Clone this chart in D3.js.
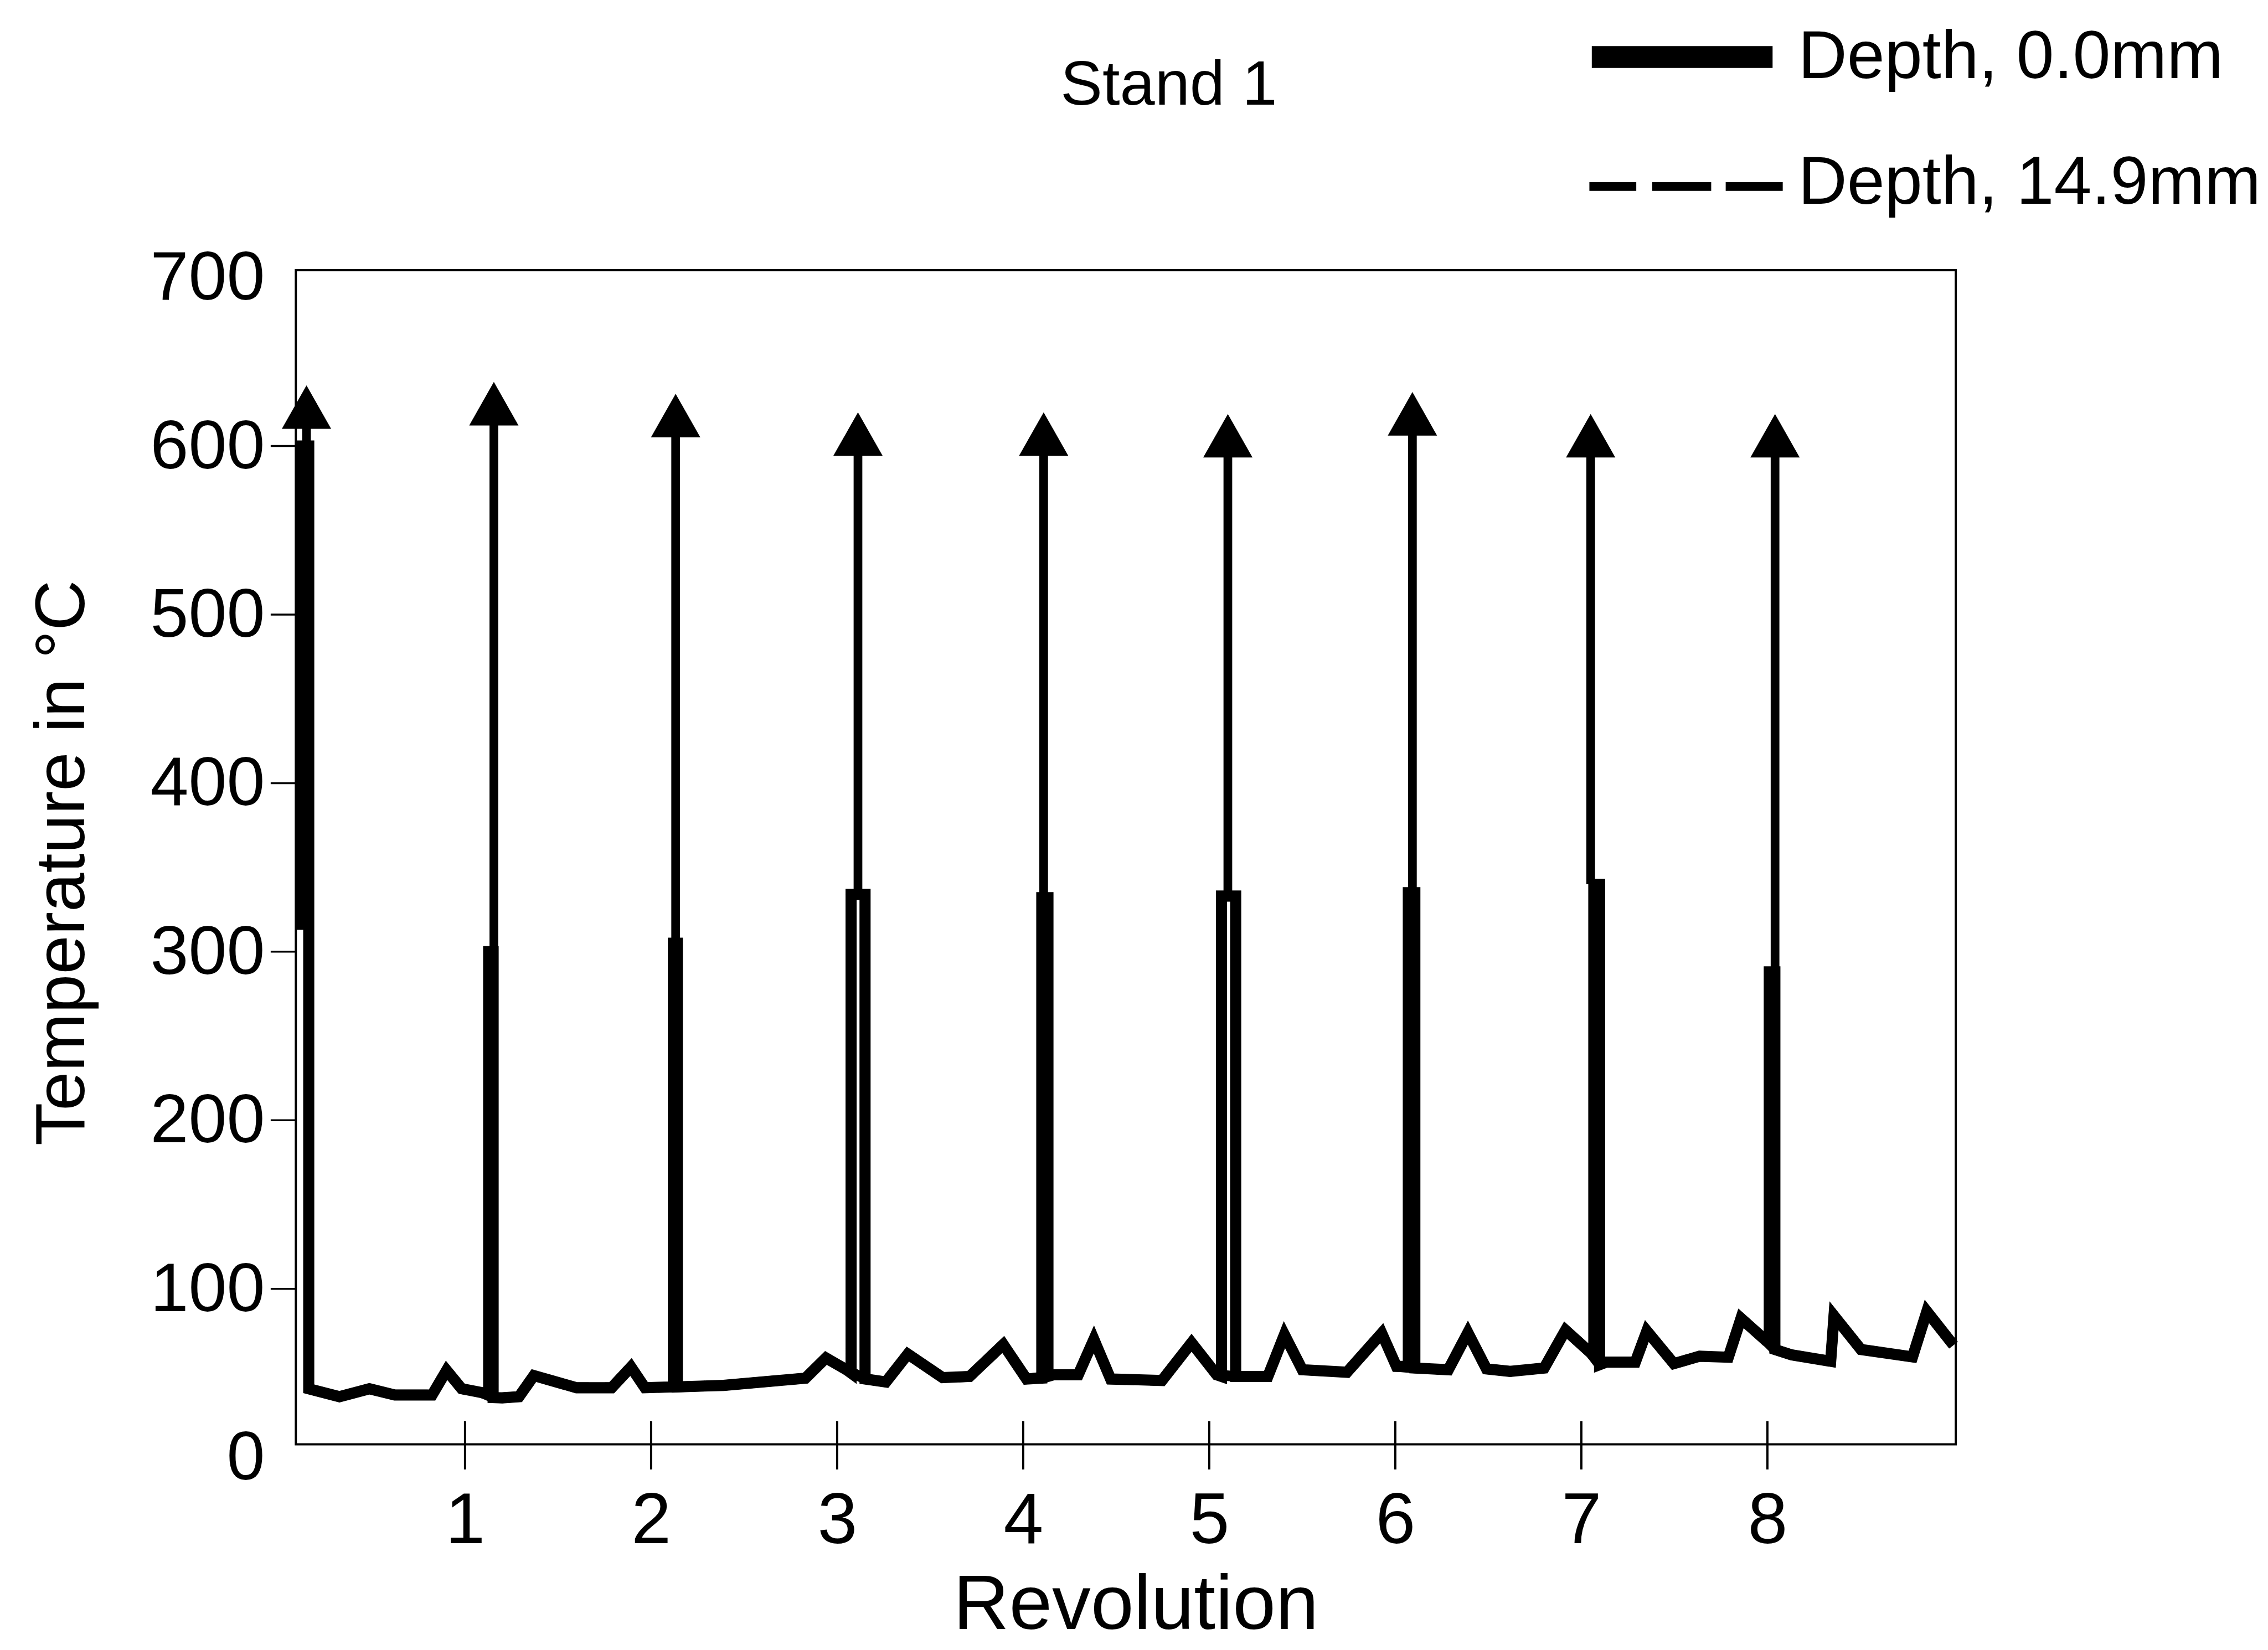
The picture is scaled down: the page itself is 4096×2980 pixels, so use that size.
<!DOCTYPE html>
<html>
<head>
<meta charset="utf-8">
<script src="https://cdn.jsdelivr.net/npm/d3@7"></script>
<style>
  html, body { margin: 0; padding: 0; background: #fff; }
  svg { display: block; }
  text { font-family: "Liberation Sans", Arial, Helvetica, sans-serif; fill: #000; }
</style>
</head>
<body>
<svg id="chart"></svg>
<script>
// ---- data ----------------------------------------------------------------
const title = "Stand 1";
const seriesNames = ["Depth, 0.0mm", "Depth, 14.9mm"];
const xLabel = "Revolution";
const yLabel = "Temperature in °C";
const xTicks = [1, 2, 3, 4, 5, 6, 7, 8];
const yTicks = [0, 100, 200, 300, 400, 500, 600, 700];

// surface trace (depth 0.0 mm): revolution vs temperature, with the contact peaks
const surfRev = [
  0.12, 0.12, 0.16, 0.16,
  0.325, 0.486, 0.623, 0.823, 0.901, 0.982, 1.09,
  1.127, 1.127, 1.151, 1.151,
  1.2, 1.29, 1.37, 1.6, 1.788, 1.892, 1.967,
  2.12, 2.12, 2.141, 2.141,
  2.39, 2.83, 2.94, 3.05,
  3.075, 3.075, 3.150, 3.150,
  3.262, 3.38, 3.567, 3.712, 3.893, 4.018,
  4.1, 4.1, 4.133, 4.133,
  4.164, 4.296, 4.38, 4.47, 4.746, 4.905, 5.04,
  5.066, 5.066, 5.142, 5.142,
  5.315, 5.404, 5.5, 5.74, 5.927, 6.006,
  6.07, 6.07, 6.105, 6.105,
  6.285, 6.39, 6.49, 6.617, 6.8, 6.915, 7.05,
  7.067, 7.067, 7.098, 7.098,
  7.134, 7.29, 7.352, 7.497, 7.635, 7.79, 7.858, 7.995,
  8.01, 8.01, 8.04, 8.04,
  8.13, 8.34, 8.358, 8.503, 8.78, 8.857, 9.0
];
const surfTemp = [
  313, 600, 600, 40.7,
  36, 40.7, 37, 37, 51.6, 40.7, 38.4,
  37.5, 300, 300, 35.5,
  35.3, 36, 48.5, 41.3, 41.3, 53.6, 41.3,
  41.8, 305, 305, 41.8,
  42.7, 47, 59, 52,
  50, 334, 334, 46.5,
  44.7, 61.3, 47.3, 48, 67, 46.5,
  47, 332, 332, 48,
  49, 49, 70, 46.5, 45.6, 68, 49,
  48, 333, 333, 48,
  48, 72.8, 52, 50.5, 73.7, 54,
  54, 335, 335, 53,
  52, 74, 52.5, 51, 53, 75.5, 62,
  60, 340, 340, 55,
  56.5, 56.5, 75, 55.6, 60, 59.4, 82.5, 69,
  68, 288, 288, 64,
  60.8, 57, 84, 64, 59.6, 86.6, 66.6
];

// trace at depth 14.9 mm
const deepRev = [
  0.16, 0.325, 0.486, 0.623, 0.823, 0.901, 0.982, 1.09, 1.151,
  1.2, 1.29, 1.37, 1.6, 1.788, 1.892, 1.967, 2.141,
  2.39, 2.83, 2.94, 3.05, 3.150,
  3.262, 3.38, 3.567, 3.712, 3.893, 4.018, 4.133,
  4.164, 4.296, 4.38, 4.47, 4.746, 4.905, 5.04, 5.142,
  5.315, 5.404, 5.5, 5.74, 5.927, 6.006, 6.105,
  6.285, 6.39, 6.49, 6.617, 6.8, 6.915, 7.05, 7.098,
  7.134, 7.29, 7.352, 7.497, 7.635, 7.79, 7.858, 7.995, 8.04,
  8.13, 8.34, 8.358, 8.503, 8.78, 8.857, 9.0
];
const deepTemp = [
  40.7, 36, 40.7, 37, 37, 51.6, 40.7, 38.4, 35.5,
  35.3, 36, 48.5, 41.3, 41.3, 53.6, 41.3, 41.8,
  42.7, 47, 59, 52, 46.5,
  44.7, 61.3, 47.3, 48, 67, 46.5, 48,
  49, 49, 70, 46.5, 45.6, 68, 49, 48,
  48, 72.8, 52, 50.5, 73.7, 54, 53,
  52, 74, 52.5, 51, 53, 75.5, 62, 55,
  56.5, 56.5, 75, 55.6, 60, 59.4, 82.5, 69, 64,
  60.8, 57, 84, 64, 59.6, 86.6, 66.6
];

// peaks leaving the measured range: arrow from the clipped top up to the peak value
const peakRev  = [0.148, 1.155, 2.132, 3.112, 4.11, 5.10, 6.092, 7.05, 8.041];
const peakFrom = [600, 300, 305, 334, 332, 333, 335, 340, 288];
const peakTo   = [636, 638, 631, 620, 620, 619, 632, 619, 619];

// ---- layout (drawn in a 4687 x 3410 frame, scaled to the window) ----------
const W = 4096, H = 2980, K = 0.873;
const frame = { left: 612, right: 4046, top: 559, bottom: 2988 };

const svg = d3.select("#chart").attr("width", W).attr("height", H);
const g = svg.append("g").attr("transform", `scale(${K})`);

const x = d3.scaleLinear().domain([0, 9]).range([577.1, 4041.2]);
const y = d3.scaleLinear().domain([0, 700]).range([3015, 574]);

// frame
g.append("rect")
  .attr("x", frame.left).attr("y", frame.top)
  .attr("width", frame.right - frame.left).attr("height", frame.bottom - frame.top)
  .attr("fill", "none").attr("stroke", "#000").attr("stroke-width", 4.5);

// y axis: ticks outside the frame, labels right-aligned
const yAxis = d3.axisLeft(y).tickValues(yTicks).tickSize(0).tickPadding(64).tickFormat(d3.format("d"));
const yg = g.append("g").attr("transform", `translate(${frame.left},0)`).call(yAxis);
yg.select(".domain").remove();
yg.selectAll("text").attr("font-size", 142).attr("font-family", "Liberation Sans, Arial, sans-serif");
g.append("g").selectAll("line")
  .data(yTicks.filter(v => v > 0 && v < 700))
  .join("line")
  .attr("x1", 560).attr("x2", frame.left)
  .attr("y1", d => y(d)).attr("y2", d => y(d))
  .attr("stroke", "#000").attr("stroke-width", 4);

// x axis: ticks crossing the bottom edge
const xAxis = d3.axisBottom(x).tickValues(xTicks).tickSize(0).tickPadding(205).tickFormat(d3.format("d"));
const xg = g.append("g").attr("transform", `translate(0,${frame.bottom})`).call(xAxis);
xg.select(".domain").remove();
xg.selectAll("text").attr("font-size", 148).attr("font-family", "Liberation Sans, Arial, sans-serif")
  .attr("dy", 0);
g.append("g").selectAll("line")
  .data(xTicks)
  .join("line")
  .attr("x1", d => x(d)).attr("x2", d => x(d))
  .attr("y1", frame.bottom - 48).attr("y2", frame.bottom + 52)
  .attr("stroke", "#000").attr("stroke-width", 4.5);

// traces
const line = d3.line().x(d => x(d[0])).y(d => y(d[1]));
const deep = deepRev.map((r, i) => [r, deepTemp[i]]);
const surf = surfRev.map((r, i) => [r, surfTemp[i]]);

g.append("path").datum(deep).attr("d", line)
  .attr("fill", "none").attr("stroke", "#000").attr("stroke-width", 22)
  .attr("stroke-dasharray", "97 33 122 30").attr("stroke-linejoin", "miter");

g.append("path").datum(surf).attr("d", line)
  .attr("fill", "none").attr("stroke", "#000").attr("stroke-width", 23)
  .attr("stroke-linejoin", "miter").attr("stroke-miterlimit", 3);

// arrows marking peaks above the range
const headH = 90, headW = 51;
const peaks = peakRev.map((r, i) => ({ r, from: peakFrom[i], to: peakTo[i] }));
const pg = g.append("g");
pg.selectAll("line")
  .data(peaks)
  .join("line")
  .attr("x1", d => x(d.r)).attr("x2", d => x(d.r))
  .attr("y1", d => y(d.from)).attr("y2", d => y(d.to) + headH - 2)
  .attr("stroke", "#000").attr("stroke-width", 18);
pg.selectAll("path")
  .data(peaks)
  .join("path")
  .attr("d", d => {
    const px = x(d.r), py = y(d.to);
    return `M${px},${py}L${px + headW},${py + headH}L${px - headW},${py + headH}Z`;
  })
  .attr("fill", "#000");

// axis titles
g.append("text")
  .attr("x", 2350).attr("y", 3370)
  .attr("text-anchor", "middle").attr("font-size", 160)
  .text(xLabel);
g.append("text")
  .attr("transform", "translate(174,1785) rotate(-90)")
  .attr("text-anchor", "middle").attr("font-size", 145)
  .text(yLabel);

// title
g.append("text")
  .attr("x", 2418).attr("y", 216)
  .attr("text-anchor", "middle").attr("font-size", 130)
  .text(title);

// legend
const leg = g.append("g");
leg.append("line")
  .attr("x1", 3293).attr("x2", 3667).attr("y1", 118).attr("y2", 118)
  .attr("stroke", "#000").attr("stroke-width", 45);
leg.append("line")
  .attr("x1", 3288).attr("x2", 3688).attr("y1", 386).attr("y2", 386)
  .attr("stroke", "#000").attr("stroke-width", 18)
  .attr("stroke-dasharray", "97 33 122 30 118");
leg.selectAll("text")
  .data(seriesNames)
  .join("text")
  .attr("x", 3720)
  .attr("y", (d, i) => [162, 421][i])
  .attr("font-size", 140)
  .text(d => d);
</script>
</body>
</html>
